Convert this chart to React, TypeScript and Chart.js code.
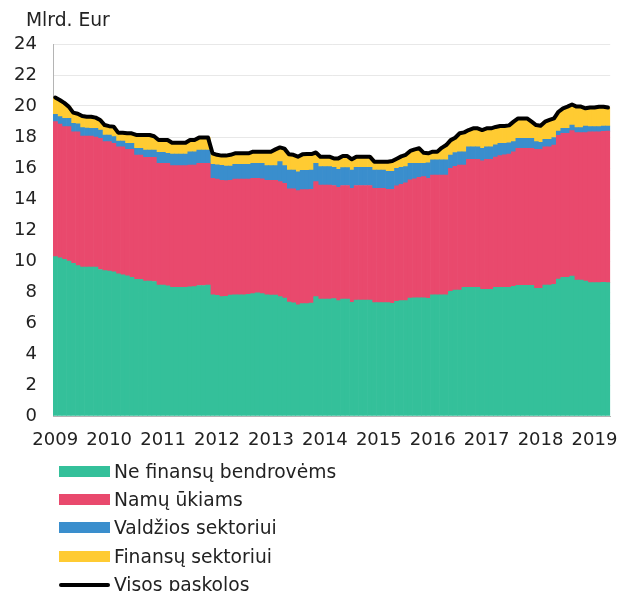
import React, { useEffect, useRef } from 'react';
import { Chart, registerables } from 'chart.js';

Chart.register(...registerables);

// ---------- data ----------
const YEARS = ['2009', '2010', '2011', '2012', '2013', '2014', '2015', '2016', '2017', '2018', '2019'];
const MONTH_COUNT = 124; // Jan 2009 .. Apr 2019
const categories: string[] = [];
for (let i = 0; i < MONTH_COUNT; i++) {
  categories.push(`${YEARS[Math.floor(i / 12)]}-${String((i % 12) + 1).padStart(2, '0')}`);
}

const SERIES_LABELS = ['Ne finansų bendrovėms', 'Namų ūkiams', 'Valdžios sektoriui', 'Finansų sektoriui', 'Visos paskolos'];
const SERIES_COLORS = ['#34C09A', '#E9496D', '#3A8ECD', '#FFCB32', '#000000'];

const nonFinancial = [
  10.28, 10.2, 10.1, 10.0, 9.85, 9.7, 9.6, 9.6, 9.6, 9.6, 9.45, 9.38,
  9.35, 9.3, 9.18, 9.1, 9.05, 8.95, 8.82, 8.82, 8.7, 8.7, 8.68, 8.45,
  8.45, 8.4, 8.3, 8.3, 8.3, 8.3, 8.33, 8.35, 8.42, 8.42, 8.45, 7.81,
  7.78, 7.7, 7.72, 7.8, 7.82, 7.82, 7.82, 7.85, 7.9, 7.95, 7.9, 7.82,
  7.8, 7.8, 7.7, 7.6, 7.35, 7.3, 7.18, 7.25, 7.25, 7.28, 7.7, 7.55,
  7.55, 7.55, 7.57, 7.44, 7.55, 7.55, 7.33, 7.48, 7.48, 7.48, 7.48, 7.31,
  7.31, 7.31, 7.31, 7.27, 7.4, 7.44, 7.44, 7.6, 7.63, 7.63, 7.63, 7.59,
  7.81, 7.81, 7.81, 7.81, 8.05, 8.13, 8.13, 8.3, 8.3, 8.3, 8.3, 8.17,
  8.17, 8.17, 8.3, 8.3, 8.3, 8.3, 8.37, 8.43, 8.43, 8.43, 8.43, 8.24,
  8.24, 8.45, 8.45, 8.5, 8.84, 8.95, 8.95, 9.03, 8.77, 8.77, 8.7, 8.6,
  8.6, 8.6, 8.62, 8.6,
];

const households = [
  8.71, 8.64, 8.57, 8.67, 8.49, 8.64, 8.46, 8.46, 8.46, 8.4, 8.46, 8.32,
  8.35, 8.29, 8.19, 8.27, 8.15, 8.25, 8.02, 8.02, 7.99, 7.99, 8.01, 7.85,
  7.85, 7.9, 7.85, 7.85, 7.85, 7.85, 7.86, 7.84, 7.88, 7.88, 7.85, 7.52,
  7.5, 7.51, 7.47, 7.41, 7.47, 7.47, 7.47, 7.44, 7.43, 7.38, 7.4, 7.38,
  7.4, 7.4, 7.42, 7.41, 7.3, 7.35, 7.36, 7.35, 7.35, 7.34, 7.42, 7.35,
  7.35, 7.35, 7.3, 7.31, 7.32, 7.32, 7.36, 7.39, 7.39, 7.39, 7.39, 7.38,
  7.38, 7.38, 7.31, 7.35, 7.45, 7.51, 7.61, 7.63, 7.67, 7.77, 7.81, 7.74,
  7.74, 7.74, 7.74, 7.74, 7.93, 7.97, 8.06, 7.89, 8.26, 8.26, 8.26, 8.3,
  8.39, 8.39, 8.4, 8.5, 8.55, 8.6, 8.68, 8.84, 8.84, 8.84, 8.84, 8.96,
  8.96, 8.92, 8.92, 8.98, 9.26, 9.29, 9.29, 9.38, 9.51, 9.51, 9.58, 9.74,
  9.74, 9.74, 9.74, 9.78,
];

const government = [
  0.47, 0.47, 0.53, 0.53, 0.54, 0.51, 0.54, 0.52, 0.5, 0.56, 0.54, 0.43,
  0.43, 0.43, 0.37, 0.37, 0.39, 0.39, 0.43, 0.43, 0.47, 0.47, 0.47, 0.71,
  0.71, 0.65, 0.75, 0.75, 0.75, 0.75, 0.86, 0.86, 0.86, 0.86, 0.86, 0.91,
  0.92, 0.96, 0.94, 0.92, 0.95, 0.95, 0.95, 0.95, 0.97, 0.97, 1.0, 0.95,
  0.95, 0.95, 1.29, 1.14, 1.22, 1.22, 1.22, 1.25, 1.25, 1.25, 1.18, 1.19,
  1.19, 1.19, 1.17, 1.16, 1.15, 1.15, 1.18, 1.17, 1.17, 1.17, 1.17, 1.18,
  1.18, 1.18, 1.16, 1.16, 1.13, 1.09, 1.04, 1.07, 1.0, 0.9, 0.86, 1.01,
  0.97, 0.97, 0.97, 0.97, 0.86, 0.9, 0.86, 0.86, 0.81, 0.81, 0.81, 0.8,
  0.81, 0.81, 0.8, 0.79, 0.74, 0.72, 0.65, 0.64, 0.64, 0.64, 0.64, 0.5,
  0.46, 0.48, 0.48, 0.49, 0.29, 0.32, 0.32, 0.36, 0.32, 0.32, 0.42, 0.33,
  0.33, 0.33, 0.34, 0.33,
];

const financial = [
  1.09, 1.08, 1.0, 0.76, 0.69, 0.65, 0.75, 0.73, 0.75, 0.69, 0.65, 0.64,
  0.57, 0.65, 0.54, 0.54, 0.65, 0.65, 0.86, 0.86, 0.97, 0.97, 0.89, 0.8,
  0.8, 0.86, 0.73, 0.73, 0.73, 0.73, 0.76, 0.76, 0.8, 0.8, 0.8, 0.71,
  0.65, 0.63, 0.67, 0.72, 0.71, 0.71, 0.71, 0.71, 0.75, 0.75, 0.75, 0.9,
  0.9, 1.05, 0.92, 1.1, 1.02, 0.98, 0.97, 1.03, 1.05, 1.03, 0.7, 0.64,
  0.64, 0.64, 0.58, 0.71, 0.75, 0.75, 0.69, 0.69, 0.69, 0.69, 0.69, 0.54,
  0.54, 0.54, 0.63, 0.67, 0.62, 0.71, 0.76, 0.8, 0.9, 0.97, 0.68, 0.61,
  0.53, 0.53, 0.78, 0.96, 0.96, 0.95, 1.19, 1.25, 1.08, 1.19, 1.19, 1.18,
  1.19, 1.19, 1.15, 1.12, 1.12, 1.13, 1.29, 1.29, 1.29, 1.29, 1.08, 1.07,
  1.07, 1.14, 1.25, 1.23, 1.24, 1.29, 1.4, 1.33, 1.36, 1.36, 1.15, 1.23,
  1.23, 1.28, 1.25, 1.19,
];

const totalLoans = [
  20.55, 20.39, 20.2, 19.96, 19.57, 19.5, 19.35, 19.31, 19.31, 19.25, 19.1, 18.77,
  18.7, 18.67, 18.28, 18.28, 18.24, 18.24, 18.13, 18.13, 18.13, 18.13, 18.05, 17.81,
  17.81, 17.81, 17.63, 17.63, 17.63, 17.63, 17.81, 17.81, 17.96, 17.96, 17.96, 16.95,
  16.85, 16.8, 16.8, 16.85, 16.95, 16.95, 16.95, 16.95, 17.05, 17.05, 17.05, 17.05,
  17.05, 17.2, 17.33, 17.25, 16.89, 16.85, 16.73, 16.88, 16.9, 16.9, 17.0, 16.73,
  16.73, 16.73, 16.62, 16.62, 16.77, 16.77, 16.56, 16.73, 16.73, 16.73, 16.73, 16.41,
  16.41, 16.41, 16.41, 16.45, 16.6, 16.75, 16.85, 17.1, 17.2, 17.27, 16.98, 16.95,
  17.05, 17.05, 17.3, 17.48, 17.8, 17.95, 18.24, 18.3, 18.45, 18.56, 18.56, 18.45,
  18.56, 18.56, 18.65, 18.71, 18.71, 18.75, 18.99, 19.2, 19.2, 19.2, 18.99, 18.77,
  18.73, 18.99, 19.1, 19.2, 19.63, 19.85, 19.96, 20.1, 19.96, 19.96, 19.85, 19.9,
  19.9, 19.95, 19.95, 19.9,
];

const Y_MIN = 0;
const Y_MAX = 24;
const Y_STEP = 2;
const UNIT_LABEL = 'Mlrd. Eur';

// ---------- styling ----------
const FONT_FAMILY = "'DejaVu Sans', Verdana, sans-serif";
const TICK_FONT_SIZE = 18;
const TEXT_FONT_SIZE = 18.7;
const TEXT_COLOR = '#222222';

export default function App() {
  const canvasRef = useRef<HTMLCanvasElement | null>(null);

  useEffect(() => {
    if (!canvasRef.current) return;
    const font = { family: FONT_FAMILY, size: TICK_FONT_SIZE, weight: 'normal' as const };
    const stackSeries = [nonFinancial, households, government, financial];
    const chart = new Chart(canvasRef.current, {
      type: 'bar',
      data: {
        labels: categories,
        datasets: [
          {
            type: 'line' as const,
            label: SERIES_LABELS[4],
            data: totalLoans,
            borderColor: SERIES_COLORS[4],
            backgroundColor: SERIES_COLORS[4],
            borderWidth: 4,
            pointRadius: 0,
            tension: 0,
            fill: false,
            stack: 'total',
            order: 0,
            borderJoinStyle: 'round' as const,
            borderCapStyle: 'round' as const,
          },
          ...stackSeries.map((d, i) => ({
            type: 'bar' as const,
            label: SERIES_LABELS[i],
            data: d,
            backgroundColor: SERIES_COLORS[i],
            borderWidth: 0,
            stack: 'sectors',
            order: 1,
            barPercentage: 1,
            categoryPercentage: 1,
          })),
        ] as any,
      },
      options: {
        animation: false,
        responsive: true,
        maintainAspectRatio: false,
        layout: { padding: { left: 6, right: 8, top: 44, bottom: 0 } },
        plugins: {
          legend: { display: false },
          tooltip: { enabled: false },
          title: { display: false },
        },
        scales: {
          x: {
            stacked: true,
            grid: { display: false, drawTicks: false },
            border: { display: true, color: '#b4b4b4', width: 1 },
            ticks: {
              autoSkip: false,
              maxRotation: 0,
              minRotation: 0,
              padding: 14,
              color: TEXT_COLOR,
              font,
              callback: (_v: any, index: number) => (index % 12 === 0 ? YEARS[index / 12] ?? '' : ''),
            },
            afterFit: (s: any) => {
              s.height = 44;
            },
          },
          y: {
            stacked: true,
            min: Y_MIN,
            max: Y_MAX,
            ticks: { stepSize: Y_STEP, padding: 16, color: TEXT_COLOR, font },
            grid: { color: '#e8e8e8', drawTicks: false },
            border: { display: true, color: '#b4b4b4', width: 1 },
            afterFit: (s: any) => {
              s.width = 47;
            },
          },
        },
      },
    });
    return () => chart.destroy();
  }, []);

  const legendItems = SERIES_LABELS.map((label, i) => ({ label, color: SERIES_COLORS[i], isLine: i === 4 }));

  return (
    <div style={{ position: 'absolute', left: 0, top: 0, width: 622, height: 620, fontFamily: FONT_FAMILY }}>
      <div style={{ position: 'absolute', left: 0, top: 0, width: 622, height: 460 }}>
        <canvas ref={canvasRef} />
      </div>
      <div
        style={{
          position: 'absolute',
          left: 26,
          top: 8,
          height: 24,
          lineHeight: '24px',
          fontSize: TEXT_FONT_SIZE,
          color: TEXT_COLOR,
          whiteSpace: 'nowrap',
        }}
      >
        {UNIT_LABEL}
      </div>
      {legendItems.map((it, k) => (
        <div
          key={it.label}
          style={{
            position: 'absolute',
            left: 59,
            top: 457 + 28.4 * k,
            height: 28.4,
            display: 'flex',
            alignItems: 'center',
            whiteSpace: 'nowrap',
            fontSize: TEXT_FONT_SIZE,
            color: TEXT_COLOR,
          }}
        >
          <span
            style={{
              display: 'inline-block',
              width: 51,
              height: it.isLine ? 4 : 11,
              borderRadius: it.isLine ? 2 : 0,
              background: it.color,
              marginRight: 4,
            }}
          />
          <span>{it.label}</span>
        </div>
      ))}
    </div>
  );
}
